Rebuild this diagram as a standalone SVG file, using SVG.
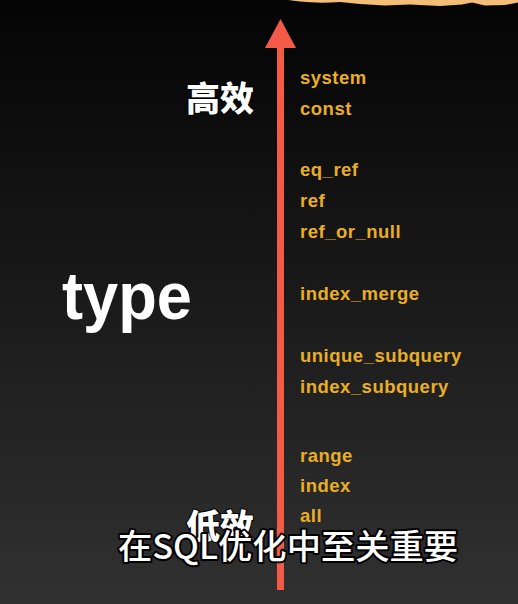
<svg xmlns="http://www.w3.org/2000/svg" width="518" height="604" viewBox="0 0 518 604">
  <defs>
    <linearGradient id="bg" x1="0" y1="0" x2="0" y2="1">
      <stop offset="0" stop-color="#040404"/>
      <stop offset="0.45" stop-color="#181818"/>
      <stop offset="1" stop-color="#313131"/>
    </linearGradient>
    <style>
      .lbl { font-family: "Liberation Sans", Arial, sans-serif; font-weight: bold; font-size: 18.5px; letter-spacing: 0.5px; fill: #e9ae25; }
      .big { font-family: "Noto Sans CJK SC", "Noto Sans", sans-serif; font-weight: 900; font-size: 34px; fill: #ffffff; stroke: #000000; stroke-width: 2px; paint-order: stroke; }
      .sub { font-family: "Noto Sans CJK SC", "Noto Sans", sans-serif; font-weight: 500; font-size: 34px; fill: #ffffff; stroke: #000000; stroke-width: 4px; paint-order: stroke; stroke-linejoin: round; }
    </style>
  </defs>
  <rect width="518" height="604" fill="url(#bg)"/>
  <path d="M288,0 L300,1.5 Q318,3.5 340,2 L360,4 L385,5.5 L410,4.5 L440,6 L462,4.5 L472,2.5 L485,5.5 L505,5 L518,2.5 L518,0 Z" fill="#f5be78"/>

  <g id="connectors">
    <rect x="277" y="46" width="7" height="544" fill="#f35b48"/>
    <polygon points="280.5,19 265,48 296,48" fill="#f35b48"/>
  </g>

  <g id="high"><text class="big" x="186" y="111">高效</text></g>
  <g id="low"><text class="big" x="186" y="539">低效</text></g>
  <g id="type"><text x="62" y="319" font-family="Liberation Sans, Arial, sans-serif" font-weight="bold" font-size="67" fill="#ffffff" textLength="130" lengthAdjust="spacingAndGlyphs">type</text></g>

  <g id="system"><text class="lbl" x="300" y="84">system</text></g>
  <g id="const"><text class="lbl" x="300" y="115">const</text></g>
  <g id="eq_ref"><text class="lbl" x="300" y="176">eq_ref</text></g>
  <g id="ref"><text class="lbl" x="300" y="207">ref</text></g>
  <g id="ref_or_null"><text class="lbl" x="300" y="238">ref_or_null</text></g>
  <g id="index_merge"><text class="lbl" x="300" y="300">index_merge</text></g>
  <g id="unique_subquery"><text class="lbl" x="300" y="362">unique_subquery</text></g>
  <g id="index_subquery"><text class="lbl" x="300" y="393">index_subquery</text></g>
  <g id="range"><text class="lbl" x="300" y="462">range</text></g>
  <g id="index"><text class="lbl" x="300" y="492">index</text></g>
  <g id="all"><text class="lbl" x="300" y="522">all</text></g>

  <g id="subtitle"><text class="sub" x="118" y="559" textLength="340" lengthAdjust="spacingAndGlyphs">在SQL优化中至关重要</text></g>
</svg>
